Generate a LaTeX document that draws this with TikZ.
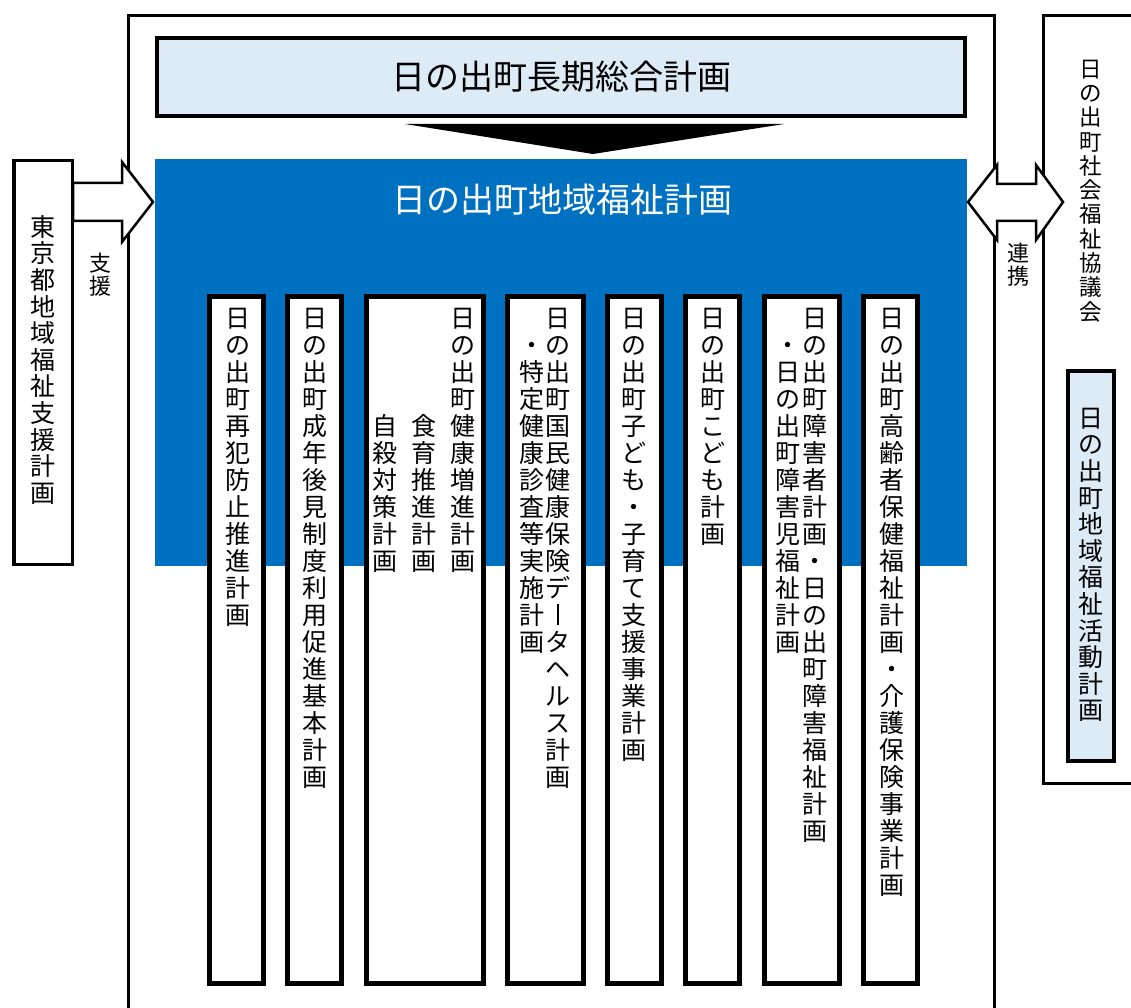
\documentclass[tikz,border=0pt]{standalone}
\usepackage{fontspec}
\setmainfont{Noto Sans CJK JP}
\usepackage{graphicx}
\definecolor{mblue}{HTML}{0070C0}
\definecolor{lblue}{HTML}{DDEBF7}
\def\vtend{VTEND}
\def\vtloop#1{\ifx\vtend#1\else\vtcell{#1}\expandafter\vtloop\fi}
\def\vtcell#1{\hbox to 1.1em{\hss\rule{0pt}{0.84em}#1\hss}}
\newcommand\vt[2][27pt]{\vbox{\baselineskip=#1\relax\lineskiplimit=-100pt\lineskip=0pt\vtloop#2\vtend}}
\def\VB{\rule[-0.035em]{0.055em}{0.85em}}
\def\SP{}
\begin{document}
\begin{tikzpicture}[x=1pt,y=-1pt,
  vtxt/.style={inner sep=0pt, anchor=north, text=black, font=\fontsize{25pt}{27pt}\selectfont},
  colbox/.style={draw=black, line width=5pt, fill=white, inner sep=0pt, minimum height=687pt, anchor=north},
  blockarrow/.style={draw=black, line width=2.5pt, fill=white, line join=miter},
  frameline/.style={draw=black, line width=3pt}]
\useasboundingbox (0,0) rectangle (1131,1008);

% frames
\draw[frameline] (128,1012) -- (128,16) -- (994,16) -- (994,1012);
\draw[frameline] (1140,15.5) -- (1043,15.5) -- (1043,783) -- (1140,783);

% top plan
\node[draw=black, line width=4pt, fill=lblue, minimum width=808pt, minimum height=78pt, inner sep=0pt,
      font=\fontsize{34pt}{36pt}\selectfont] (sogo) at (561,77) {日の出町長期総合計画};
\fill[black] (405,124) -- (784,124) -- (593,154) -- cycle;

% blue region
\node[fill=mblue, minimum width=812pt, minimum height=407pt, inner sep=0pt, anchor=north west] (chiiki) at (155,159) {};
\node[text=white, inner sep=0pt, font=\fontsize{34pt}{36pt}\selectfont] (chiikiT) at (562,200) {日の出町地域福祉計画};

% left arrow and Tokyo box
\draw[blockarrow] (73,183) -- (122,183) -- (122,162) -- (153,202) -- (122,242) -- (122,221) -- (73,221) -- cycle;
\node[draw=black, line width=3.5pt, fill=white, minimum width=58.5pt, minimum height=403.5pt, inner sep=0pt] (tokyo) at (43,362.5) {};
\node[vtxt] (tokyoT) at (43,215) {\vt[26.6pt]{東京都地域福祉支援計画}};
\node[vtxt, font=\fontsize{22pt}{24pt}\selectfont] (shien) at (100,253) {\vt[23pt]{支援}};

% right double arrow and council
\draw[blockarrow] (968,202) -- (997,165) -- (997,184) -- (1036,184) -- (1036,165) -- (1063,202) -- (1036,240) -- (1036,221) -- (997,221) -- (997,240) -- cycle;
\node[vtxt, font=\fontsize{22pt}{24pt}\selectfont] (renkei) at (1018,243) {\vt[23pt]{連携}};
\node[vtxt, font=\fontsize{22.5pt}{24pt}\selectfont] (shakyo) at (1091,58) {\vt[24.3pt]{日の出町社会福祉協議会}};
\node[draw=black, line width=4pt, fill=lblue, minimum width=46pt, minimum height=390pt, inner sep=0pt] (katsudo) at (1091,566) {};
\node[vtxt] (katsudoT) at (1091,406) {\vt[26.6pt]{日の出町地域福祉活動計画}};

% columns
\node[colbox, minimum width=54pt] (c1) at (236.5,293.5) {};
\node[colbox, minimum width=54pt] (c2) at (314.5,293.5) {};
\node[colbox, minimum width=117pt] (c3) at (425,293.5) {};
\node[colbox, minimum width=76pt] (c4) at (545.5,293.5) {};
\node[colbox, minimum width=54pt] (c5) at (634.5,293.5) {};
\node[colbox, minimum width=54pt] (c6) at (712.5,293.5) {};
\node[colbox, minimum width=75pt] (c7) at (802,293.5) {};
\node[colbox, minimum width=54pt] (c8) at (890.5,293.5) {};

\node[vtxt] (t1) at (238,306) {\vt{日の出町再犯防止推進計画}};
\node[vtxt] (t2) at (315,306) {\vt{日の出町成年後見制度利用促進基本計画}};
\node[vtxt] (t3a) at (463,306) {\vt{日の出町健康増進計画}};
\node[vtxt] (t3b) at (424,306) {\vt{\SP\SP\SP\SP 食育推進計画}};
\node[vtxt] (t3c) at (385,306) {\vt{\SP\SP\SP\SP 自殺対策計画}};
\node[vtxt] (t4a) at (558,306) {\vt{日の出町国民健康保険デ\VB タヘルス計画}};
\node[vtxt] (t4b) at (532,306) {\vt{\SP・特定健康診査等実施計画}};
\node[vtxt] (t5) at (634,306) {\vt{日の出町子ども・子育て支援事業計画}};
\node[vtxt] (t6) at (713,306) {\vt{日の出町こども計画}};
\node[vtxt] (t7a) at (815,306) {\vt{日の出町障害者計画・日の出町障害福祉計画}};
\node[vtxt] (t7b) at (788,306) {\vt{\SP・日の出町障害児福祉計画}};
\node[vtxt] (t8) at (892,306) {\vt{日の出町高齢者保健福祉計画・介護保険事業計画}};
\end{tikzpicture}
\end{document}
